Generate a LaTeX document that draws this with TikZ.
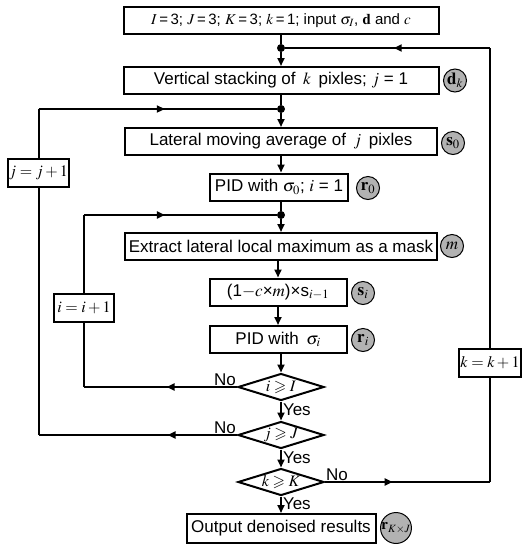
\documentclass[tikz,border=0pt]{standalone}
\usepackage{amssymb}
\usepackage{mathptmx}
\usepackage[no-math]{fontspec}
\setmainfont{Liberation Sans}
\usetikzlibrary{arrows.meta,calc,positioning,shapes.geometric,decorations.markings}

\tikzset{
  procbox/.style={draw,line width=2pt,fill=white,minimum height=27pt,inner sep=1pt},
  sidebox/.style={draw,line width=2pt,fill=white,minimum height=28pt,inner sep=1pt,
    font=\fontsize{16}{18}\selectfont},
  decbox/.style={diamond,draw,line width=2pt,fill=white,aspect=3.2,inner sep=0pt,
    minimum width=86pt,minimum height=27pt,font=\fontsize{16}{18}\selectfont},
  tagcirc/.style={circle,draw,line width=1pt,fill=black!30,minimum size=23pt,inner sep=0pt},
  flow/.style={line width=2pt,-{Triangle[length=8pt,width=7pt]}},
  link/.style={line width=2pt},
  midarrow/.style={decoration={markings,
      mark=at position #1 with {\arrow{Triangle[length=8pt,width=7pt]}}},postaction={decorate}},
  dot/.style={circle,fill=black,inner sep=0pt,minimum size=8pt},
  anslbl/.style={inner sep=1pt}
}

\begin{document}
\begin{tikzpicture}[x=1pt,y=-1pt,font=\fontsize{17}{19}\selectfont]
  \useasboundingbox (0,0) rectangle (528,550);

  % main column
  \node[procbox,minimum width=315pt,font=\fontsize{15}{17}\selectfont] (init) at (281,20.5)
    {$I$\,=\,3; $J$\,=\,3; $K$\,=\,3; $k$\,=\,1; input $\sigma_I$, $\mathbf{d}$ and $c$};
  \node[procbox,minimum width=315pt] (stack) at (281,80.5)
    {Vertical stacking of \,$k$\, pixles; $j$ = 1};
  \node[procbox,minimum width=312pt] (avg) at (281,141.5)
    {Lateral moving average of \,$j$\, pixles};
  \node[procbox,minimum width=138pt] (pid0) at (279,187)
    {PID with $\sigma_0$; $i$ = 1};
  \node[procbox,minimum width=312pt] (mask) at (281,246.5)
    {Extract lateral local maximum as a mask};
  \node[procbox,minimum width=137pt] (supp) at (278,292)
    {(1$-c$×$m$)×s$_{i-1}$};
  \node[procbox,minimum width=137pt] (pidi) at (278,339.5)
    {PID with \,$\sigma_i$};
  \node[decbox] (deci) at (281,387) {$i\geqslant I$};
  \node[decbox] (decj) at (281,435) {$j\geqslant J$};
  \node[decbox] (deck) at (281,482) {$k\geqslant K$};
  \node[procbox,minimum width=189pt,minimum height=29pt] (out) at (281,528.5)
    {Output denoised results};

  % result tags
  \node[tagcirc] (tagd) at (455,80.5) {$\mathbf{d}_k$};
  \node[tagcirc] (tags0) at (453,143) {$\mathbf{s}_0$};
  \node[tagcirc] (tagr0) at (368,188) {$\mathbf{r}_0$};
  \node[tagcirc] (tagm) at (452,246) {$m$};
  \node[tagcirc] (tagsi) at (363,293) {$\mathbf{s}_i$};
  \node[tagcirc] (tagri) at (363,340) {$\mathbf{r}_i$};
  \node[tagcirc,minimum size=29pt,font=\fontsize{15}{17}\selectfont] (tagout) at (396,528) {$\mathbf{r}_{K\times J}$};

  % junctions
  \node[dot] (jk) at (281,48) {};
  \node[dot] (jj) at (281,109) {};
  \node[dot] (ji) at (281,215) {};

  % side counters
  \node[sidebox,minimum width=61pt] (incj) at (38.5,173) {$j=j+1$};
  \node[sidebox,minimum width=60pt] (inci) at (84,308) {$i=i+1$};
  \node[sidebox,minimum width=62pt] (inck) at (490,363) {$k=k+1$};

  % forward flow
  \draw[link] (init) -- (jk);
  \draw[flow] (jk) -- (stack);
  \draw[link] (stack) -- (jj);
  \draw[flow] (jj) -- (avg);
  \draw[flow] (avg) -- (avg.south |- pid0.north);
  \draw[link] (pid0.south -| ji) -- (ji);
  \draw[flow] (ji) -- (mask);
  \draw[flow] (mask.south -| supp) -- (supp);
  \draw[flow] (supp) -- (pidi);
  \draw[flow] (pidi.south -| deci) -- (deci);
  \draw[flow] (deci) -- node[anslbl,right,pos=0.45]{Yes} (decj);
  \draw[flow] (decj) -- node[anslbl,right,pos=0.45]{Yes} (deck);
  \draw[flow] (deck) -- node[anslbl,right,pos=0.45]{Yes} (out);

  % loop over i
  \draw[link,midarrow=0.46] (deci.west) -- (deci.west -| inci);
  \draw[link] (deci.west -| inci) -- (inci);
  \draw[link] (inci) -- (inci |- ji);
  \draw[link,midarrow=0.42] (inci |- ji) -- (ji);
  \node[anslbl,above left] at (deci.west) {No};

  % loop over j
  \draw[link,midarrow=0.35] (decj.west) -- (decj.west -| incj);
  \draw[link] (decj.west -| incj) -- (incj);
  \draw[link] (incj) -- (incj |- jj);
  \draw[link,midarrow=0.53] (incj |- jj) -- (jj);
  \node[anslbl,above left] at (decj.west) {No};

  % loop over k
  \draw[link,midarrow=0.41] (deck.east) -- (deck.east -| inck);
  \draw[link] (deck.east -| inck) -- (inck);
  \draw[link] (inck) -- (inck |- jk);
  \draw[link,midarrow=0.47] (inck |- jk) -- (jk);
  \node[anslbl,above right] at (deck.east) {No};
\end{tikzpicture}
\end{document}
